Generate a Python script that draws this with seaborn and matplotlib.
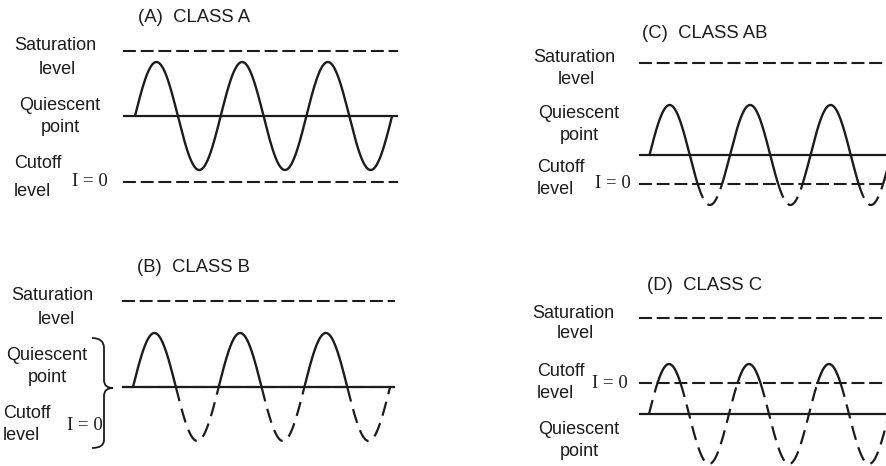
import numpy as np
import pandas as pd
import matplotlib
matplotlib.use("Agg")
import matplotlib.pyplot as plt
from matplotlib.path import Path
from matplotlib.patches import PathPatch
import seaborn as sns

# ---------------- data (levels in units of signal amplitude, Q point = 0) ----------------
panel_titles = ["(A)  CLASS A", "(B)  CLASS B", "(C)  CLASS AB", "(D)  CLASS C"]
saturation_level = [1.20, 1.59, 1.84, 1.92]
cutoff_level = [-1.22, 0.00, -0.58, 0.62]
n_cycles = [3, 3, 3, 3]

# ---------------- layout (pixels in an 887x466 figure) ----------------
W, H = 887, 466
# sine start x, pixels per cycle, Q-line y, pixels per amplitude
geom = [
    dict(x0=135.0, cyc=85.7, yq=116.0, amp=54.0, box=(110, 410, 35, 205), lines=(-0.14, 3.07)),
    dict(x0=133.0, cyc=85.7, yq=387.0, amp=54.0, box=(110, 410, 285, 460), lines=(-0.13, 3.06)),
    dict(x0=649.5, cyc=80.5, yq=155.0, amp=50.0, box=(630, 887, 45, 220), lines=(-0.13, 3.30)),
    dict(x0=649.0, cyc=80.0, yq=414.0, amp=50.0, box=(630, 887, 295, 470), lines=(-0.125, 3.30)),
]
title_pos = [(194, 18), (193, 268), (705, 33), (705, 286)]
labels = [
    # (text, x, y, ha)
    [("Saturation", 55, 45, "center"), ("level", 57, 70, "center"),
     ("Quiescent", 60, 106, "center"), ("point", 60, 128, "center"),
     ("Cutoff", 14, 163, "left"), ("level", 14, 192, "left")],
    [("Saturation", 52, 295, "center"), ("level", 56, 320, "center"),
     ("Quiescent", 47, 356, "center"), ("point", 47, 378, "center"),
     ("Cutoff", 3, 413, "left"), ("level", 3, 435, "left")],
    [("Saturation", 574, 58, "center"), ("level", 576, 80, "center"),
     ("Quiescent", 579, 114, "center"), ("point", 579, 136, "center"),
     ("Cutoff", 537, 167, "left"), ("level", 537, 189, "left")],
    [("Saturation", 573, 313, "center"), ("level", 575, 334, "center"),
     ("Cutoff", 537, 371, "left"), ("level", 537, 393, "left"),
     ("Quiescent", 579, 430, "center"), ("point", 579, 451, "center")],
]
i0_pos = [(90, 182), (85, 425), (613, 184), (610, 383)]

INK = "#1c1c1c"

sns.set_theme(style="white")
plt.rcParams["font.family"] = ["Liberation Sans", "DejaVu Sans"]

fig = plt.figure(figsize=(W / 100, H / 100), dpi=100)
fig.patch.set_facecolor("white")

# overlay axes in pixel coordinates for text + brace
ov = fig.add_axes([0, 0, 1, 1])
ov.set_xlim(0, W)
ov.set_ylim(H, 0)
ov.axis("off")
ov.patch.set_alpha(0)

for k, g in enumerate(geom):
    L, R, T, B = g["box"]
    ax = fig.add_axes([L / W, 1 - B / H, (R - L) / W, (B - T) / H])
    ax.set_xlim((L - g["x0"]) / g["cyc"], (R - g["x0"]) / g["cyc"])
    ax.set_ylim((g["yq"] - B) / g["amp"], (g["yq"] - T) / g["amp"])
    ax.axis("off")
    ax.patch.set_alpha(0)

    xs, xe = g["lines"]
    # saturation and cutoff: dashed, Q point: solid
    ax.hlines(saturation_level[k], xs, xe, colors=INK, lw=1.5, linestyles=(0, (6.2, 2.3)))
    ax.hlines(cutoff_level[k], xs, xe, colors=INK, lw=1.5, linestyles=(0, (6.2, 2.3)))
    ax.hlines(0.0, xs, xe, colors=INK, lw=1.6)

    # signal: solid where current flows (above cutoff), dashed where cut off
    t = np.linspace(0, n_cycles[k], 1500)
    y = np.sin(2 * np.pi * t)
    on = y >= cutoff_level[k]
    seg = np.concatenate([[0], np.cumsum(on[1:] != on[:-1])])
    df = pd.DataFrame({"t": t, "y": y, "on": on, "seg": seg})
    d_on = df[df["on"]]
    d_off = df[~df["on"]]
    if len(d_on):
        sns.lineplot(data=d_on, x="t", y="y", units="seg", estimator=None,
                     ax=ax, color=INK, lw=1.7, sort=False)
    if len(d_off):
        sns.lineplot(data=d_off, x="t", y="y", units="seg", estimator=None,
                     ax=ax, color=INK, lw=1.6, sort=False, linestyle=(0, (6.5, 3.5)))

    # texts
    tx, ty = title_pos[k]
    ov.text(tx, ty, panel_titles[k], ha="center", va="center", fontsize=13.3, color=INK)
    for s, x, yy, ha in labels[k]:
        ov.text(x, yy, s, ha=ha, va="center", fontsize=13, color=INK)
    ix, iy = i0_pos[k]
    ov.text(ix, iy, "I = 0", ha="center", va="center", fontsize=13.5, color=INK,
            family=["Liberation Serif", "DejaVu Serif"])

# curly brace in panel B
verts = [(92, 338), (104, 338), (104, 348),
         (104, 380),
         (104, 388), (113, 388),
         (104, 388), (104, 396),
         (104, 440),
         (104, 448), (92, 448)]
codes = [Path.MOVETO, Path.CURVE3, Path.CURVE3,
         Path.LINETO,
         Path.CURVE3, Path.CURVE3,
         Path.CURVE3, Path.CURVE3,
         Path.LINETO,
         Path.CURVE3, Path.CURVE3]
ov.add_patch(PathPatch(Path(verts, codes), fill=False, edgecolor=INK, lw=1.3))

fig.savefig("out.png", dpi=100, facecolor="white")
